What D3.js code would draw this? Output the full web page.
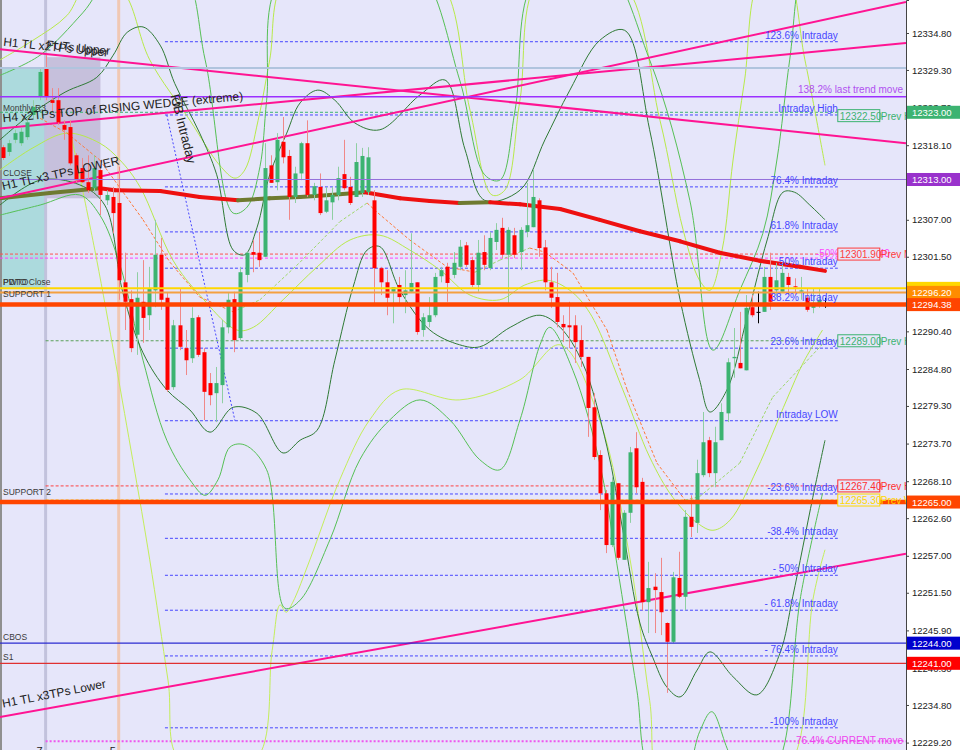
<!DOCTYPE html>
<html><head><meta charset="utf-8">
<script src="https://cdn.jsdelivr.net/npm/d3@7"></script>
<style>html,body{margin:0;padding:0;background:#fff;}svg{display:block;font-family:"Liberation Sans",Arial,sans-serif;}</style>
</head><body><svg id="c" width="960" height="750"></svg>
<script>
// ---------------- DATA ----------------
const opens=[12317.8,12317.1,12318.9,12318.4,12319.3,12322.6,12325.3,12329.6,12324.8,12324.8,12321.1,12320.8,12316.6,12314.7,12312.6,12311.7,12314.4,12309.9,12310.4,12309.5,12297.7,12295.2,12289.9,12294.8,12292.8,12296.5,12301.8,12295.4,12282.1,12291.3,12287.9,12286.4,12292.5,12287.3,12282.7,12281.2,12282.4,12291.0,12295.2,12289.4,12298.8,12302.2,12302.1,12301.5,12315.1,12312.6,12318.6,12316.5,12310.4,12313.9,12318.4,12310.7,12311.9,12308.2,12309.6,12310.7,12313.8,12311.9,12310.4,12311.0,12311.1,12309.9,12299.8,12297.7,12296.3,12297.3,12295.8,12296.3,12297.7,12290.6,12291.8,12292.8,12298.6,12300.0,12298.8,12300.0,12303.2,12301.0,12297.3,12302.2,12299.8,12303.7,12305.8,12301.8,12304.7,12302.2,12305.2,12305.9,12309.9,12302.9,12297.7,12295.5,12291.5,12291.3,12291.3,12289.1,12286.6,12279.1,12272.0,12266.3,12258.6,12267.8,12256.4,12263.4,12273.0,12268.0,12250.1,12252.4,12251.6,12247.0,12244.2,12253.7,12250.9,12262.8,12261.9,12269.0,12274.2,12269.3,12274.2,12278.2,12286.4,12285.7,12284.6,12294.0,12293.3,12293.3,12298.5,12296.5,12296.3,12298.5,12297.1,12296.3,12295.4,12293.9,12294.3,12294.3];
const highs=[12318.1,12318.9,12320.4,12320.7,12322.1,12324.8,12329.7,12331.5,12326.6,12326.6,12321.8,12321.8,12316.9,12316.2,12316.6,12316.6,12315.2,12311.4,12311.9,12314.9,12302.1,12296.5,12299.2,12301.0,12300.0,12307.0,12304.3,12296.1,12292.1,12296.8,12290.6,12294.0,12292.8,12287.9,12284.2,12285.1,12292.1,12296.1,12296.3,12300.0,12302.2,12304.0,12305.2,12318.4,12316.6,12319.9,12322.3,12317.4,12314.9,12318.6,12321.8,12312.5,12313.9,12311.9,12311.9,12314.9,12318.9,12313.4,12318.4,12317.7,12317.8,12311.4,12300.0,12299.5,12297.0,12298.5,12299.5,12305.0,12297.7,12293.1,12295.5,12299.1,12300.0,12300.6,12302.2,12304.0,12303.7,12301.5,12304.0,12304.7,12305.2,12306.5,12307.3,12305.9,12305.8,12305.9,12312.5,12314.4,12310.2,12304.0,12300.0,12299.1,12292.8,12294.8,12292.8,12291.3,12286.6,12281.2,12272.7,12266.8,12268.7,12267.8,12263.8,12273.2,12275.4,12268.6,12256.1,12254.4,12256.7,12247.1,12254.6,12257.6,12263.8,12266.0,12271.3,12278.4,12274.7,12276.2,12279.7,12286.4,12290.9,12293.3,12295.8,12295.8,12296.3,12300.0,12302.1,12300.6,12300.6,12299.1,12298.3,12298.5,12296.8,12296.8,12296.8,12295.4];
const lows=[12315.9,12316.5,12318.4,12318.0,12318.9,12322.1,12324.8,12324.8,12323.0,12321.1,12318.9,12315.1,12312.6,12312.5,12311.0,12311.1,12307.7,12309.2,12305.0,12295.1,12290.6,12287.3,12286.9,12288.7,12290.6,12294.0,12293.6,12281.4,12281.7,12287.6,12283.9,12285.7,12286.6,12277.2,12279.4,12276.9,12279.7,12290.1,12287.3,12289.1,12297.7,12299.2,12300.0,12301.5,12312.5,12311.4,12315.4,12307.0,12309.5,12312.9,12310.4,12309.9,12307.7,12308.0,12307.0,12309.9,12311.4,12309.2,12310.4,12310.4,12310.7,12294.6,12295.8,12292.8,12291.6,12294.6,12293.1,12296.1,12289.9,12289.6,12291.0,12292.5,12297.7,12294.8,12298.3,12299.5,12300.0,12297.0,12296.3,12299.5,12299.5,12302.5,12301.3,12294.6,12301.3,12299.5,12304.4,12305.9,12301.5,12296.5,12293.9,12291.0,12288.8,12287.9,12285.7,12285.1,12274.7,12271.3,12263.8,12257.4,12258.3,12256.4,12256.4,12261.9,12266.3,12248.9,12245.5,12245.5,12245.2,12236.6,12244.0,12250.7,12248.9,12259.8,12260.4,12268.7,12268.7,12267.2,12274.2,12276.9,12283.5,12284.9,12284.6,12292.5,12291.6,12293.3,12293.6,12295.5,12296.3,12295.8,12295.8,12295.1,12293.3,12293.1,12293.9,12293.9];
const closes=[12316.2,12318.4,12319.9,12320.1,12321.5,12323.8,12329.0,12325.3,12324.4,12321.5,12320.4,12315.4,12312.9,12312.6,12311.4,12314.7,12310.7,12310.7,12308.0,12298.0,12294.8,12287.9,12295.4,12292.4,12296.8,12301.8,12295.1,12281.7,12291.3,12288.1,12286.1,12292.4,12286.9,12281.4,12280.9,12282.7,12291.0,12295.1,12289.1,12299.2,12302.1,12301.8,12301.0,12314.7,12312.5,12318.9,12316.3,12310.4,12313.9,12318.4,12310.7,12312.0,12308.0,12309.9,12310.7,12313.2,12311.7,12309.5,12315.6,12316.5,12316.3,12299.8,12297.7,12295.4,12297.0,12295.5,12296.5,12297.6,12290.3,12292.5,12292.8,12298.5,12299.5,12297.6,12300.6,12303.0,12300.3,12297.3,12302.1,12300.3,12304.3,12305.5,12301.8,12305.5,12301.8,12305.5,12306.2,12310.4,12302.8,12297.7,12295.4,12291.8,12291.0,12291.0,12288.8,12286.6,12279.0,12271.7,12266.3,12258.6,12268.0,12256.7,12263.4,12272.4,12267.2,12250.1,12252.2,12251.9,12248.6,12244.2,12253.8,12250.9,12262.8,12261.3,12269.3,12273.9,12269.3,12273.9,12278.4,12285.8,12286.6,12284.9,12293.9,12292.8,12293.3,12298.5,12294.8,12298.0,12299.1,12297.3,12297.0,12296.5,12293.6,12294.3,12295.1,12294.3];

// moving average (bar index, price)
const maLine=[[-0.5,12310.2],[7.7,12311.0],[15.9,12311.7],[18.4,12311.4],[25.8,12311.3],[32.3,12310.4],[38.6,12309.9],[43.8,12310.2],[48.8,12310.4],[53.7,12310.7],[59.4,12311.1],[65.2,12310.2],[70.1,12309.8],[75.0,12309.5],[80.0,12309.6],[84.9,12309.3],[91.5,12308.6],[98.0,12307.0],[104.6,12305.3],[111.2,12303.8],[117.7,12302.1],[124.3,12300.9],[130.9,12300.0],[135,12299.4]];
// dashed middle band
const midLine=[[6.1,12322.1],[10.5,12319.9],[15.9,12315.9],[23.0,12307.0],[27.4,12300.7],[32.3,12295.5],[37.8,12293.3],[42.2,12295.1],[48.8,12300.7],[55.3,12306.7],[59.8,12309.5],[61.6,12308.0],[66.8,12304.0],[72.9,12300.0],[77.5,12299.2],[81.6,12301.0],[86.5,12302.8],[89.0,12302.2],[93.6,12299.1],[99.2,12290.6],[102.5,12281.7],[107.4,12270.8],[112.0,12265.3],[114.4,12265.8],[121.0,12270.8],[126.4,12280.6],[134.6,12288.5]];
// envelope bands
const dgUpper=[[-0.5,12318.9],[4.4,12322.6],[10.2,12326.0],[15.4,12328.2],[18.1,12331.5],[20.4,12334.9],[23.0,12335.7],[25.8,12333.0],[28.2,12327.3],[32.3,12319.9],[35.1,12313.7],[37.8,12302.5],[39.7,12301.8],[41.7,12305.8],[43.8,12313.7],[46.6,12319.9],[48.8,12324.4],[51.7,12326.3],[54.5,12324.8],[57.8,12321.4],[61.9,12320.4],[68.5,12325.6],[72.6,12327.8],[75.9,12317.4],[79.1,12309.9],[84.9,12311.4],[89.0,12318.9],[93.1,12326.3],[98.0,12333.7],[102.1,12335.2],[106.2,12320.4],[111.2,12295.1],[114.4,12283.2],[116.1,12278.4],[118.9,12281.7],[122.2,12292.5],[125.5,12304.0],[128.1,12311.1],[130.0,12311.1],[132.5,12309.2],[135.0,12307.0]];
const dgLower=[[-0.5,12309.2],[6.1,12312.9],[12.6,12312.2],[16.7,12309.2],[19.7,12296.1],[23.0,12287.2],[26.9,12281.7],[30.7,12278.7],[34.0,12275.4],[37.8,12279.1],[41.7,12278.2],[46.0,12272.3],[48.8,12274.2],[51.6,12275.7],[54.5,12286.1],[57.5,12297.0],[59.8,12302.5],[61.9,12303.0],[65.2,12296.5],[70.1,12290.6],[75.0,12288.4],[78.3,12288.1],[83.3,12291.0],[88.2,12292.8],[91.5,12291.0],[95.2,12285.7],[99.2,12273.2],[101.8,12260.8],[104.6,12247.0],[106.7,12241.9],[109.0,12237.5],[111.2,12236.0],[114.0,12240.0],[116.1,12242.7],[119.9,12239.0],[123.8,12236.3],[127.6,12242.5],[129.7,12250.9],[133.0,12265.7],[135.0,12274.2]];
const mgUpper=[[-0.5,12328.5],[6.1,12331.5],[13.1,12337.8],[17.6,12342.7],[29.1,12344.2],[33.2,12330.8],[37.8,12308.0],[40.1,12308.9],[42.2,12314.9],[43.3,12324.8],[45.5,12342.7],[60,12348],[68.5,12344.2],[75.0,12327.8],[79.1,12313.7],[81.6,12312.9],[84.1,12323.3],[87.4,12342.7],[98.0,12345.7],[106.2,12330.8],[112.8,12309.9],[116.6,12287.6],[121.0,12296.5],[124.8,12305.0],[127.1,12315.9],[129.2,12330.8],[131.7,12345.7],[135.0,12348.6]];
const mgLower=[[-0.5,12307.7],[6.1,12309.2],[12.6,12310.7],[15.9,12307.7],[19.2,12300.3],[23.0,12286.1],[26.9,12274.2],[30.7,12268.3],[33.2,12266.0],[35.3,12268.3],[37.3,12273.2],[39.7,12273.5],[43.3,12269.8],[46.3,12249.2],[48.8,12250.4],[53.7,12259.4],[58.6,12271.3],[63.5,12277.2],[68.5,12280.2],[73.4,12277.2],[78.3,12271.3],[81.6,12269.8],[84.9,12277.2],[88.2,12288.4],[89.8,12291.0],[93.6,12284.6],[98.0,12270.8],[100.8,12255.9],[104.1,12237.0],[106.2,12225.1],[111.2,12222.1],[114.4,12230.8],[116.4,12233.8],[119.4,12227.4],[124.3,12220.7],[128.1,12228.1],[130.9,12250.4],[134.6,12266.3]];
const ygUpper=[[-0.5,12330.8],[4.9,12333.7],[10.5,12337.4],[14.3,12342.7],[19.5,12341.2],[24.1,12330.8],[30.7,12321.8],[35.6,12315.1],[38.1,12313.2],[39.7,12314.4],[41.9,12321.8],[43.8,12330.8],[46.3,12342.7],[60,12348],[71.8,12342.7],[76.7,12323.3],[80.3,12310.7],[82.4,12311.4],[84.9,12324.8],[88.2,12342.7],[101.3,12342.7],[107.9,12321.8],[111.7,12305.5],[114.4,12298.0],[116.1,12296.5],[118.1,12302.5],[119.9,12315.9],[121.8,12327.8],[124.3,12342.7],[128.4,12344.2],[131.7,12330.8],[135.0,12315.1]];
const ygLower=[[-0.5,12314.4],[4.9,12317.7],[10.5,12319.9],[15.9,12318.4],[19.2,12315.9],[22.5,12311.9],[27.9,12301.0],[32.3,12295.8],[38.4,12290.6],[41.1,12291.0],[46.0,12295.1],[51.6,12300.0],[57.0,12304.0],[61.9,12304.7],[66.8,12302.5],[71.8,12299.5],[76.7,12295.8],[81.6,12295.1],[85.7,12297.3],[89.5,12298.0],[93.1,12296.5],[96.4,12293.1],[101.8,12281.7],[106.2,12271.7],[110.0,12265.7],[114.0,12261.9],[116.6,12260.8],[119.4,12262.3],[123.8,12269.8],[128.7,12280.2],[131.4,12285.7],[134.6,12290.6]];
// outer light band (lower)
const ygOuter=[[11.0,12320.4],[15.4,12301.0],[21.3,12271.3],[24.1,12256.4],[27.1,12238.5],[29.1,12226.6],[41.4,12226.6],[44.2,12242.9],[45.5,12249.7],[46.5,12248.6],[47.6,12250.1],[50.4,12256.4],[55.3,12268.3],[60.2,12277.2],[65.2,12281.7],[75.0,12280.2],[84.9,12283.2],[91.5,12288.4],[98.0,12277.2],[103.0,12256.4],[106.2,12235.5],[108.7,12222.1],[126.0,12222.1],[130.4,12228.1],[133.0,12250.4],[135.0,12257.9]];

// trend lines: [bar index, price] end points
const tlUpper=[[-0.5,12332.4],[148.3,12318.4]];
const tlWedge=[[-0.5,12320.6],[148.3,12333.3]];
const tlLowerSteep=[[-0.5,12310.2],[148.3,12339.4]];
const tlLowerBottom=[[-0.5,12233.0],[148.3,12257.3]];
const fibDiag=[[26.9,12322.6],[38.1,12277.1]];

// fibo levels (blue dotted)
const fibLevels=[12333.5,12322.6,12311.9,12305.2,12299.8,12294.5,12287.9,12277.1,12266.2,12259.6,12254.1,12248.9,12242.1,12231.4];
const fibLabels=["123.6% Intraday","Intraday High","76.4% Intraday","61.8% Intraday","50%   Intraday","38.2% Intraday","23.6% Intraday","Intraday LOW","-23.6% Intraday","-38.4% Intraday","- 50% Intraday","- 61.8% Intraday","- 76.4% Intraday","-100% Intraday"];

// horizontal levels
const solidLevels=[12329.6,12325.3,12313.0,12296.8,12296.2,12294.38,12265.0,12244.0,12241.0];
const solidColors=["#b0c4de","#9b30ff","#9370db","#ffd700","#f4a040","#ff4500","#ff4500","#2b2bd0","#e03030"];
const solidWidths=[2,1.5,1,2,2,4.5,4.5,1.2,1.2];
const dashLevels=[12323.0,12301.9,12301.3,12289.0,12267.4,12265.3,12229.4];
const dashColors=["#3cb371","#ff5050","#ff40ff","#5aa05a","#ff4040","#ffcc00","#ee55ee"];

// right axis
const yTicks=[12334.8,12329.3,12323.7,12318.1,12312.5,12307.0,12301.5,12296.0,12290.4,12284.8,12279.3,12273.7,12268.1,12262.6,12257.0,12251.5,12245.9,12240.3,12234.8,12229.2];
const axisTags=[12323.0,12313.0,12296.8,12296.2,12294.38,12265.0,12244.0,12241.0];
const axisTagColors=["#3cb371","#9932cc","#ffd700","#ff8c00","#ff4500","#ff4500","#0000cd","#ff0000"];

// price boxes inside the chart
const boxPrices=[12322.5,12301.9,12289.0,12267.4,12265.3];
const boxColors=["#3cb371","#ff3c3c","#3cb371","#ff3030","#ffd700"];
const boxSuffix=["Prev H","Prev M","Prev H","Prev H","Prev W"];

// left level names
const leftNames=["Monthly R3","CLOSE","PWTO","PDTO Close","SUPPORT 1","SUPPORT 2","CBOS","S1"];
const leftNamePrices=[12323.2,12313.5,12297.3,12297.3,12295.5,12266.0,12244.5,12241.5];

// session separators (bar index) and labels
const sepBars=[7,19];
const sepLabels=["7","5"];

// ---------------- DRAW ----------------
const svg=d3.select("#c");
const plotR=906;
const y=d3.scaleLinear().domain([12228.1,12339.71]).range([750,0]);
const x=d3.scaleLinear().domain([0,135]).range([3,825]);

svg.append("rect").attr("width",960).attr("height",750).attr("fill","#ffffff");
svg.append("rect").attr("width",plotR).attr("height",750).attr("fill","#e6e6fa");
svg.append("defs").append("clipPath").attr("id","clip").append("rect").attr("width",plotR).attr("height",750);
const g=svg.append("g").attr("clip-path","url(#clip)");

// shaded zones
g.append("rect").attr("x",x(-0.5)).attr("y",y(12329.6)).attr("width",x(7)-x(-0.5)).attr("height",y(12296.8)-y(12329.6)).attr("fill","#acdadd");
g.append("line").attr("x1",x(7)-1).attr("x2",x(7)-1).attr("y1",y(12329.6)).attr("y2",y(12296.8)).attr("stroke","#7fe8ef").attr("stroke-width",1);
g.append("rect").attr("x",x(7)).attr("y",y(12331.2)).attr("width",x(16)-x(7)).attr("height",y(12310.2)-y(12331.2)).attr("fill","#c6c0dc");

// separators
g.selectAll(".sep").data(sepBars).enter().append("line")
 .attr("x1",d=>x(d)).attr("x2",d=>x(d)).attr("y1",0).attr("y2",750)
 .attr("stroke",(d,i)=>i===0?"#c2c2dc":"#f0c8b4").attr("stroke-width",3);
g.append("line").attr("x1",1).attr("x2",1).attr("y1",0).attr("y2",750).attr("stroke","#909090").attr("stroke-width",2);

// fibo dotted levels
const fibX0=x(26.6), fibX1=x(137.1);
g.selectAll(".fib").data(fibLevels).enter().append("line")
 .attr("x1",fibX0).attr("x2",fibX1).attr("y1",d=>y(d)).attr("y2",d=>y(d))
 .attr("stroke","#4646ff").attr("stroke-width",1).attr("stroke-dasharray","3,2");

// dashed levels
dashLevels.forEach((p,i)=>{
  const full=(i<=2);
  g.append("line").attr("x1",full?0:x(7)).attr("x2",i===6?plotR:x(137.1)).attr("y1",y(p)).attr("y2",y(p))
   .attr("stroke",dashColors[i]).attr("stroke-width",i===6?2:1).attr("stroke-dasharray",i===6?"2,2":"3,2");
});

// bands
const band=d3.line().x(d=>x(d[0])).y(d=>y(d[1])).curve(d3.curveCatmullRom.alpha(0.5));
[[ygOuter,"#c4ee5a"],[ygUpper,"#b8ea4a"],[ygLower,"#b8ea4a"],[mgUpper,"#56c056"],[mgLower,"#56c056"],[dgUpper,"#2f7a35"],[dgLower,"#2f7a35"]]
 .forEach(([d,c])=>g.append("path").attr("d",band(d)).attr("fill","none").attr("stroke",c).attr("stroke-width",1));

// dashed middle line colored by direction
for(let i=0;i<midLine.length-1;i++){
  const a=midLine[i],b=midLine[i+1];
  g.append("line").attr("x1",x(a[0])).attr("y1",y(a[1])).attr("x2",x(b[0])).attr("y2",y(b[1]))
   .attr("stroke",b[1]<a[1]?"#ff7a3a":"#9fd86a").attr("stroke-width",1).attr("stroke-dasharray","3,2");
}

// FIB diagonal
g.append("line").attr("x1",x(fibDiag[0][0])).attr("y1",y(fibDiag[0][1])).attr("x2",x(fibDiag[1][0])).attr("y2",y(fibDiag[1][1]))
 .attr("stroke","#4646ff").attr("stroke-dasharray","2,2").attr("stroke-width",1);

// moving average (thick, colored by slope)
for(let i=0;i<maLine.length-1;i++){
  const a=maLine[i],b=maLine[i+1];
  g.append("line").attr("x1",x(a[0])).attr("y1",y(a[1])).attr("x2",x(b[0])).attr("y2",y(b[1]))
   .attr("stroke",b[1]<a[1]?"#ee1010":"#6e7a30").attr("stroke-width",4).attr("stroke-linecap","round");
}

// trend lines
[tlUpper,tlWedge,tlLowerSteep,tlLowerBottom].forEach(t=>{
  g.append("line").attr("x1",x(t[0][0])).attr("y1",y(t[0][1])).attr("x2",x(t[1][0])).attr("y2",y(t[1][1]))
   .attr("stroke","#ff1493").attr("stroke-width",2);
});

// candles
const bw=4;
const cg=g.append("g");
opens.forEach((o,i)=>{
  const c=closes[i],h=highs[i],l=lows[i];
  const up=c>o, doji=c===o;
  const col=doji?"#000":(up?"#3cb371":"#ff0000");
  const wc=doji?"#000":(up?"#8fcfa2":"#f08888");
  const cx=Math.round(x(i))+0.5;
  cg.append("line").attr("x1",cx).attr("x2",cx).attr("y1",y(h)).attr("y2",y(l)).attr("stroke",wc).attr("stroke-width",1);
  const top=y(Math.max(o,c)), bot=y(Math.min(o,c));
  cg.append("rect").attr("x",cx-bw/2).attr("y",top).attr("width",bw).attr("height",Math.max(1,bot-top)).attr("fill",col);
});

// solid levels (on top)
solidLevels.forEach((p,i)=>{
  g.append("line").attr("x1",0).attr("x2",plotR).attr("y1",y(p)).attr("y2",y(p))
   .attr("stroke",solidColors[i]).attr("stroke-width",solidWidths[i]);
});

// fib labels
g.selectAll(".fibt").data(fibLevels).enter().append("text")
 .attr("x",x(137.1)).attr("y",d=>y(d)-3).attr("text-anchor","end")
 .attr("font-size","10px").attr("fill","#4646ff").text((d,i)=>fibLabels[i]);

// other labels
g.append("text").attr("x",903).attr("y",y(12325.3)-4).attr("text-anchor","end").attr("font-size","10px").attr("fill","#b050f0").text("138.2% last trend move");
g.append("text").attr("x",903).attr("y",y(12229.4)+3).attr("text-anchor","end").attr("font-size","10px").attr("fill","#ee44ee").text("76.4% CURRENT move");
g.append("text").attr("x",x(133.5)).attr("y",y(12301.9)+3).attr("font-size","10px").attr("fill","#ff44ff").text("-50% - 12301.40");

// boxes
boxPrices.forEach((p,i)=>{
  const bx=x(137.1), by=y(p);
  g.append("rect").attr("x",bx).attr("y",by-6).attr("width",42).attr("height",12).attr("fill","#e6e6fa").attr("stroke",boxColors[i]).attr("stroke-width",1);
  g.append("text").attr("x",bx+2).attr("y",by+4).attr("font-size","10px").attr("fill",boxColors[i]).text(p.toFixed(2));
  g.append("text").attr("x",bx+43).attr("y",by+4).attr("font-size","10px").attr("fill",boxColors[i]).text(boxSuffix[i]);
});

// left names
leftNames.forEach((n,i)=>{
  g.append("text").attr("x",3).attr("y",y(leftNamePrices[i])).attr("font-size","8.5px").attr("fill","#3a3a3a").text(n);
});

// trend line captions
function cap(t,px,py,ang,size){
  g.append("text").attr("x",px).attr("y",py).attr("font-size",size).attr("fill","#222")
   .attr("transform",`rotate(${ang},${px},${py})`).text(t);
}
cap("H1 TL x2TPs Upper",3,y(12332.9),5.9,"12px");
cap("FUTs Upper",46,y(12332.5),5.9,"12px");
cap("H4 x2TPs TOP of RISING WEDGE (extreme)",3,y(12321.5),-5.3,"12px");
cap("H1 TL x3 TPs LOWER",3,y(12311.4),-12.5,"12px");
cap("H1 TL x3TPs Lower",3,y(12234.4),-11,"12px");
cap("FIB Intraday",x(27.5),y(12325.5),76,"13px");

// separator labels
sepBars.forEach((b,i)=>{
  svg.append("text").attr("x",x(b)-6).attr("y",755).attr("text-anchor","middle").attr("font-size","11px").attr("fill","#222").text(sepLabels[i]);
});

// right axis
const ax=svg.append("g").attr("transform",`translate(${plotR},0)`)
 .call(d3.axisRight(y).tickValues(yTicks).tickSize(3).tickFormat(d=>d.toFixed(2)));
ax.select(".domain").attr("stroke","#444");
ax.selectAll(".tick line").attr("stroke","#444");
ax.selectAll(".tick text").attr("font-size","9.5px").attr("fill","#222").attr("font-family","Liberation Sans, Arial, sans-serif").attr("x",6);

axisTags.forEach((p,i)=>{
  svg.append("rect").attr("x",plotR+1).attr("y",y(p)-6.5).attr("width",53).attr("height",13).attr("fill",axisTagColors[i]);
  svg.append("text").attr("x",plotR+6).attr("y",y(p)+3.5).attr("font-size","9.5px").attr("fill","#fff").text(p.toFixed(2));
});
</script></body></html>
